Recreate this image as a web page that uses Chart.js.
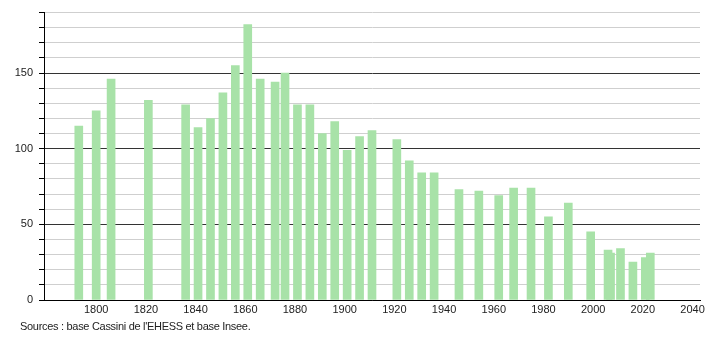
<!DOCTYPE html>
<html>
<head>
<meta charset="utf-8">
<script src="https://cdn.jsdelivr.net/npm/chart.js@4/dist/chart.umd.min.js"></script>
<style>
  html, body { margin: 0; padding: 0; background: #fff; }
  #wrap { position: relative; width: 710px; height: 340px; }
  #note { position: absolute; left: 20px; top: 320px; font: 11px "Liberation Sans", Arial, sans-serif; letter-spacing: -0.3px; color: #222; white-space: nowrap; }
</style>
</head>
<body>
<div id="wrap">
  <canvas id="c" width="710" height="340"></canvas>
  <div id="note">Sources : base Cassini de l'EHESS et base Insee.</div>
</div>
<script>
const years = [1793,1800,1806,1821,1836,1841,1846,1851,1856,1861,1866,1872,1876,1881,1886,1891,1896,1901,1906,1911,1921,1926,1931,1936,1946,1954,1962,1968,1975,1982,1990,1999,2006,2007,2011,2016,2021,2023];
const population = [115,125,146,132,129,114,120,137,155,182,146,144,150,129,129,110,118,99,108,112,106,92,84,84,73,72,69,74,74,55,64,45,33,31,34,25,28,31];
const xTickLabels = [1800,1820,1840,1860,1880,1900,1920,1940,1960,1980,2000,2020,2040];
const yTickLabels = [0,50,100,150];

const points = years.map((y, i) => ({ x: y, y: population[i] }));
const font = { family: "'Liberation Sans', Arial, sans-serif", size: 11 };

new Chart(document.getElementById('c'), {
  type: 'bar',
  data: {
    datasets: [{
      data: points,
      backgroundColor: 'rgb(168,226,168)',
      borderWidth: 0,
      barThickness: 8
    }]
  },
  options: {
    responsive: false,
    animation: false,
    devicePixelRatio: 1,
    layout: { padding: { top: 10, right: 10, left: 0, bottom: 0 } },
    plugins: { legend: { display: false }, tooltip: { enabled: false } },
    scales: {
      x: {
        type: 'linear',
        offset: false,
        min: 1779,
        max: 2043,
        afterBuildTicks: s => { s.ticks = xTickLabels.map(v => ({ value: v })); },
        afterFit: s => { s.height = 40; },
        ticks: { stepSize: 20, color: '#222', font: font, padding: 3, maxRotation: 0, autoSkip: false,
                 callback: v => String(v) },
        grid: { display: false, drawTicks: false, offset: false },
        border: { display: true, color: '#000', width: 1 }
      },
      y: {
        min: 0,
        max: 190,
        afterFit: s => { s.width = 44; },
        ticks: { stepSize: 10, color: '#222', font: font, padding: 6, autoSkip: false,
                 callback: v => yTickLabels.includes(v) ? String(v) : '' },
        grid: {
          color: ctx => (ctx.tick && ctx.tick.value % 50 === 0) ? '#333' : '#cfcfcf',
          tickColor: '#000',
          tickLength: 5,
          lineWidth: 1
        },
        border: { display: true, color: '#000', width: 1 }
      }
    }
  }
});
</script>
</body>
</html>
